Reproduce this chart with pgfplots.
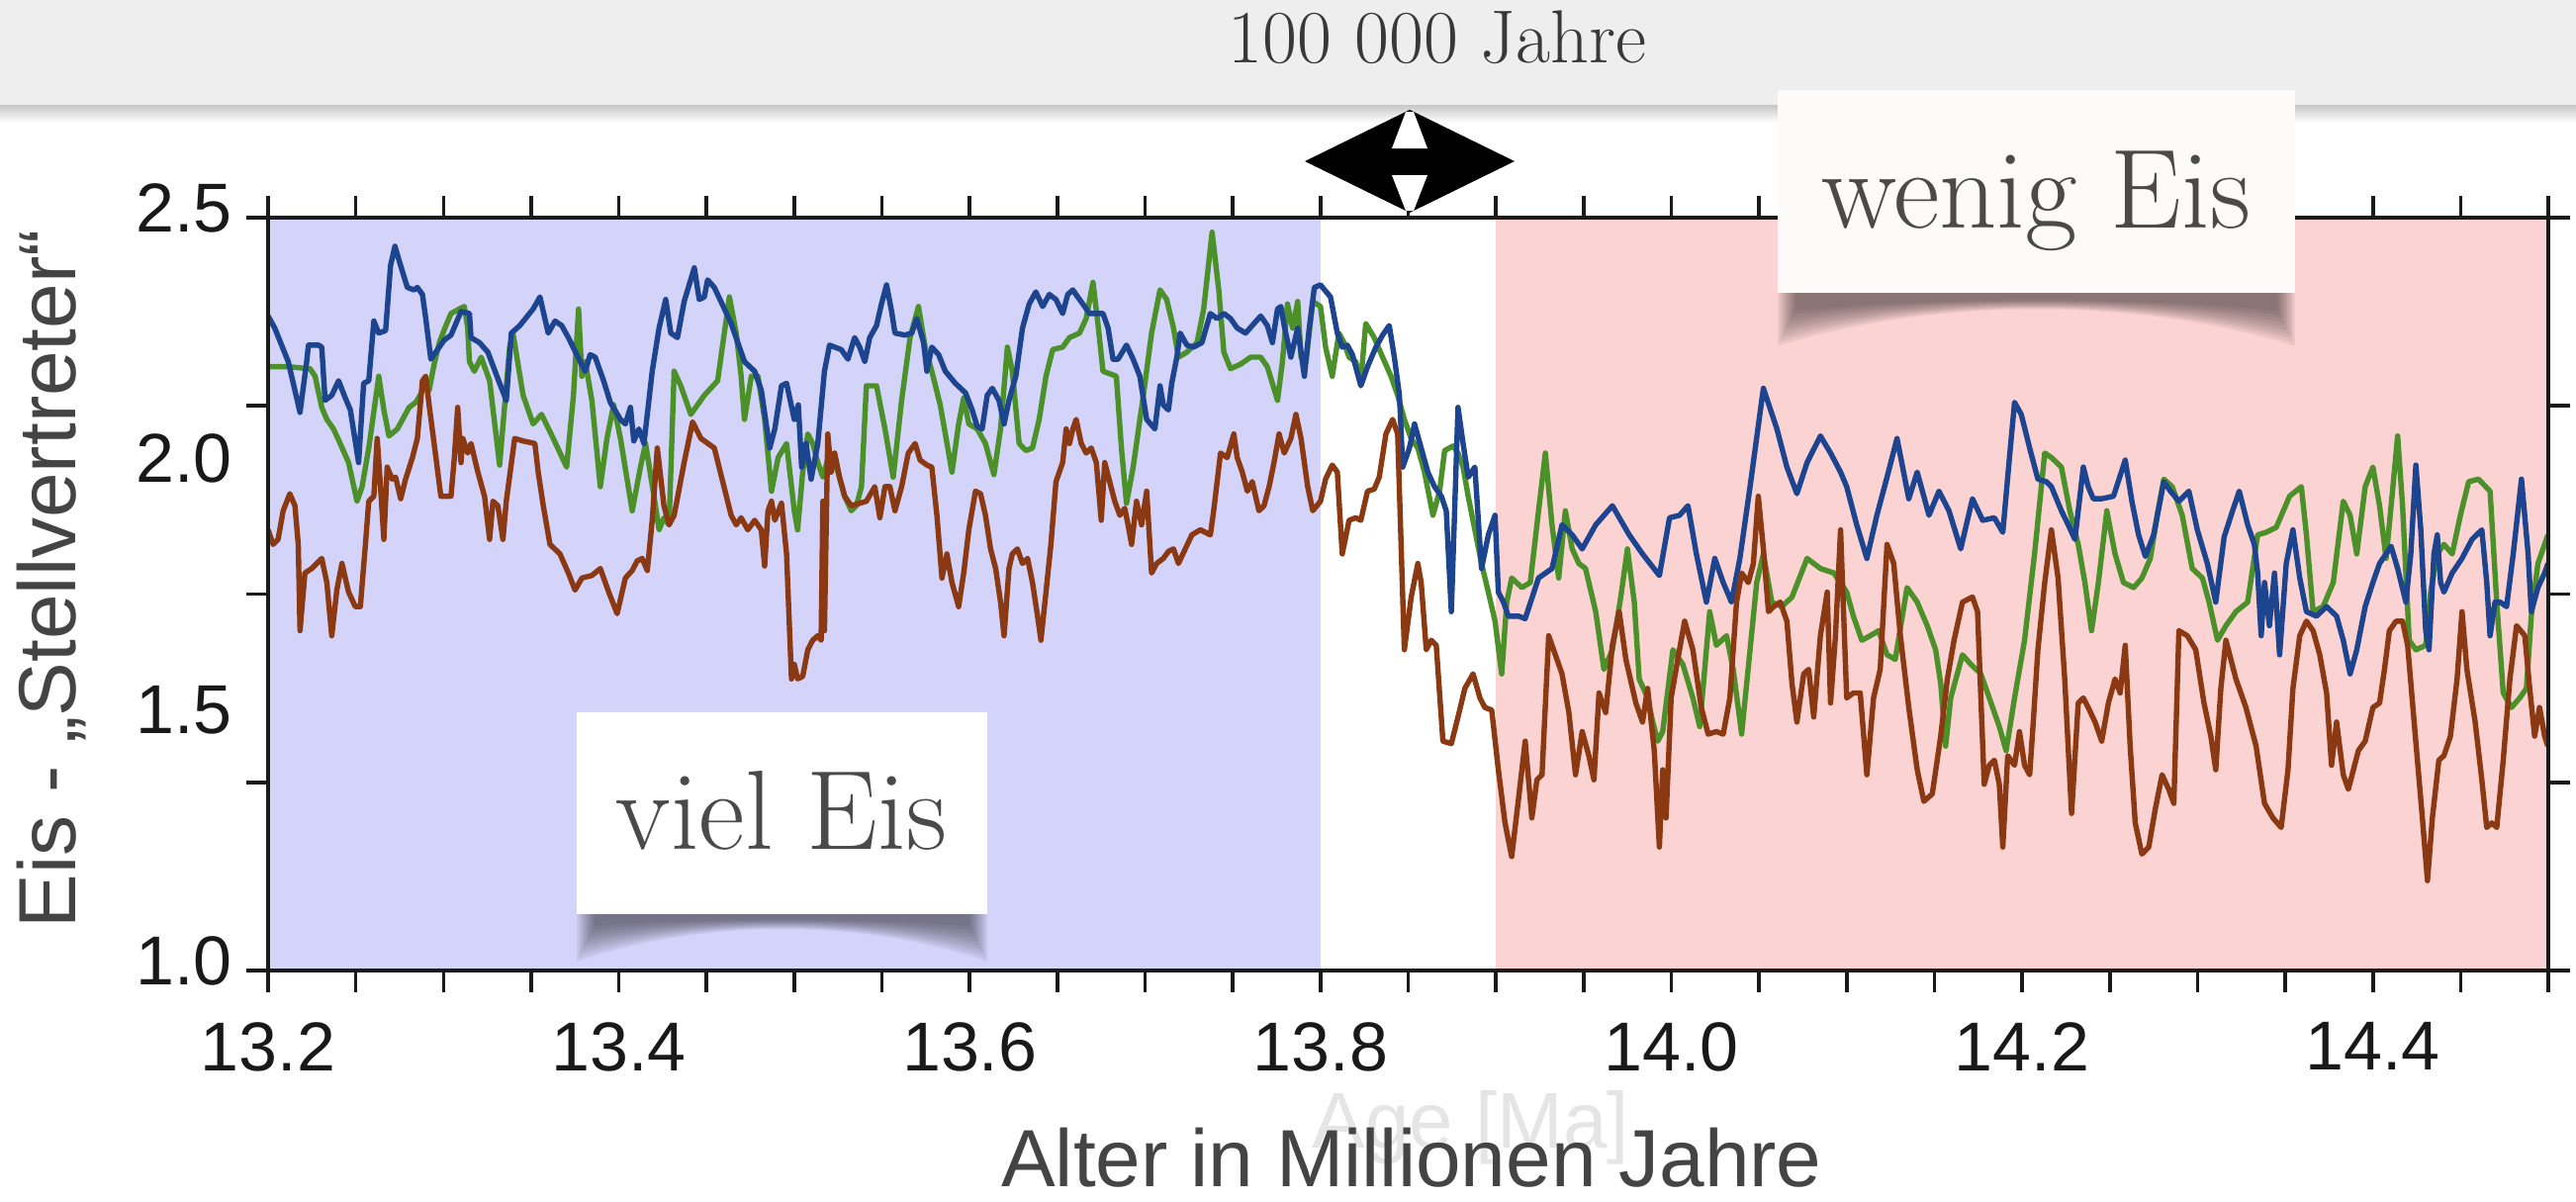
\documentclass[border=0pt]{standalone}
\usepackage{fontspec}
\usepackage{pgfplots}
\pgfplotsset{compat=1.18}
\newfontfamily\sans{Liberation Sans}
\definecolor{bluebg}{HTML}{D4D3F9}
\definecolor{pinkbg}{HTML}{FCD3D3}
\definecolor{lblue}{HTML}{1D448F}
\definecolor{lgreen}{HTML}{4C9029}
\definecolor{lbrown}{HTML}{8A3912}
\definecolor{axiscol}{HTML}{1A1A1A}
\definecolor{labelgray}{HTML}{444444}
\definecolor{boxtext}{HTML}{4A4A4A}
\definecolor{bannercol}{HTML}{EEEEEE}
\definecolor{boxw}{HTML}{FDFBFA}

\begin{document}
\begin{tikzpicture}
\path[use as bounding box] (0,0) rectangle (651pt,303.5pt);
\fill[white] (0,0) rectangle (651pt,303.5pt);

\begin{axis}[
  at={(67.75pt,58.25pt)}, anchor=south west,
  scale only axis, width=576.25pt, height=190.25pt,
  xmin=13.2, xmax=14.5, ymin=1, ymax=2.5,
  axis on top,
  axis line style={line width=1pt, color=axiscol},
  tick align=outside,
  xtick={13.2,13.4,13.6,13.8,14.0,14.2,14.4},
  xticklabels={13.2,13.4,13.6,13.8,14.0,14.2,14.4},
  minor xtick={13.25,13.3,13.35,13.45,13.5,13.55,13.65,13.7,13.75,13.85,13.9,13.95,14.05,14.1,14.15,14.25,14.3,14.35,14.45,14.5},
  ytick={1,1.375,1.75,2.125,2.5},
  yticklabels={1.0,,,,2.5},
  extra y ticks={1.5,2},
  extra y tick labels={1.5,2.0},
  extra y tick style={tick style={draw=none}},
  major tick length=5.5pt, minor tick length=5.5pt,
  tick style={line width=0.9pt, color=axiscol},
  ticklabel style={font=\sans\fontsize{17.5}{20}\selectfont, text=black!90},
  yticklabel style={yshift=2.5pt},
  xticklabel style={yshift=-4pt},
  every axis plot/.append style={line width=1.35pt, line join=round},
]
\fill[bluebg] (axis cs:13.2,1) rectangle (axis cs:13.8,2.5);
\fill[pinkbg] (axis cs:13.9,1) rectangle (axis cs:14.5,2.5);

% green
\addplot[lgreen] table {
13.2000 2.203
13.2115 2.203
13.2239 2.199
13.2268 2.184
13.2306 2.122
13.2335 2.098
13.2373 2.079
13.2411 2.050
13.2459 2.012
13.2507 1.935
13.2536 1.964
13.2574 2.041
13.2631 2.184
13.2660 2.117
13.2689 2.065
13.2737 2.079
13.2804 2.122
13.2842 2.132
13.2890 2.160
13.2918 2.156
13.2947 2.208
13.2976 2.251
13.3014 2.285
13.3043 2.309
13.3090 2.318
13.3119 2.323
13.3138 2.280
13.3148 2.213
13.3176 2.194
13.3215 2.222
13.3263 2.175
13.3320 2.007
13.3377 2.242
13.3396 2.270
13.3454 2.146
13.3511 2.089
13.3559 2.108
13.3626 2.060
13.3702 2.003
13.3741 2.146
13.3770 2.318
13.3789 2.184
13.3808 2.213
13.3846 2.136
13.3894 1.964
13.3932 2.060
13.3970 2.127
13.4009 2.060
13.4076 1.916
13.4123 2.003
13.4152 2.050
13.4200 1.945
13.4229 1.878
13.4257 1.902
13.4286 1.888
13.4315 2.194
13.4353 2.165
13.4410 2.108
13.4487 2.146
13.4563 2.175
13.4630 2.342
13.4669 2.270
13.4697 2.184
13.4716 2.098
13.4755 2.184
13.4793 2.184
13.4831 2.098
13.4870 1.955
13.4908 2.022
13.4956 2.050
13.5000 1.916
13.5019 1.878
13.5048 1.993
13.5077 2.069
13.5105 2.050
13.5134 2.012
13.5163 1.983
13.5201 2.031
13.5249 1.993
13.5287 1.945
13.5325 1.916
13.5354 1.926
13.5383 1.964
13.5411 2.165
13.5469 2.165
13.5517 2.079
13.5564 1.983
13.5612 2.136
13.5660 2.261
13.5708 2.323
13.5746 2.242
13.5784 2.194
13.5832 2.127
13.5899 1.993
13.5937 2.089
13.5966 2.141
13.5995 2.089
13.6043 2.079
13.6090 2.050
13.6138 1.988
13.6176 2.079
13.6215 2.242
13.6243 2.194
13.6282 2.050
13.6320 2.036
13.6358 2.041
13.6396 2.098
13.6435 2.184
13.6473 2.237
13.6530 2.242
13.6569 2.261
13.6626 2.270
13.6664 2.299
13.6703 2.371
13.6731 2.289
13.6760 2.194
13.6836 2.184
13.6865 2.041
13.6894 1.931
13.6932 2.003
13.6990 2.146
13.7037 2.270
13.7085 2.356
13.7123 2.337
13.7162 2.280
13.7190 2.222
13.7238 2.232
13.7296 2.251
13.7334 2.318
13.7382 2.471
13.7420 2.356
13.7449 2.232
13.7487 2.199
13.7544 2.208
13.7602 2.222
13.7659 2.222
13.7697 2.203
13.7755 2.136
13.7783 2.213
13.7812 2.328
13.7841 2.280
13.7870 2.333
13.7889 2.222
13.7917 2.213
13.7956 2.333
13.8000 2.323
13.8029 2.242
13.8067 2.184
13.8105 2.270
13.8134 2.251
13.8163 2.222
13.8201 2.213
13.8230 2.175
13.8258 2.289
13.8306 2.261
13.8354 2.222
13.8402 2.184
13.8440 2.146
13.8478 2.098
13.8517 2.060
13.8555 2.041
13.8593 1.993
13.8641 1.907
13.8679 1.955
13.8708 2.036
13.8756 2.045
13.8784 2.031
13.8813 2.003
13.8842 1.945
13.8880 1.878
13.8918 1.811
13.8957 1.754
13.8995 1.696
13.9033 1.591
13.9062 1.734
13.9090 1.782
13.9148 1.763
13.9196 1.773
13.9234 1.888
13.9282 2.031
13.9320 1.888
13.9358 1.782
13.9396 1.916
13.9435 1.840
13.9473 1.811
13.9511 1.801
13.9569 1.715
13.9616 1.600
13.9664 1.639
13.9712 1.744
13.9750 1.840
13.9789 1.734
13.9817 1.581
13.9865 1.543
13.9894 1.495
13.9923 1.457
13.9951 1.476
14.0009 1.639
14.0066 1.610
14.0123 1.543
14.0162 1.486
14.0219 1.715
14.0257 1.648
14.0315 1.667
14.0353 1.600
14.0401 1.471
14.0449 1.639
14.0487 1.773
14.0525 1.830
14.0573 1.734
14.0630 1.725
14.0688 1.744
14.0774 1.821
14.0850 1.801
14.0927 1.792
14.1000 1.754
14.1038 1.706
14.1086 1.658
14.1134 1.667
14.1182 1.677
14.1230 1.629
14.1277 1.620
14.1344 1.763
14.1402 1.734
14.1459 1.687
14.1507 1.639
14.1536 1.572
14.1564 1.447
14.1593 1.543
14.1660 1.629
14.1708 1.610
14.1765 1.591
14.1823 1.533
14.1870 1.486
14.1909 1.438
14.1957 1.543
14.2014 1.658
14.2071 1.830
14.2129 2.031
14.2167 2.022
14.2224 2.003
14.2272 1.916
14.2320 1.849
14.2358 1.773
14.2396 1.677
14.2435 1.773
14.2483 1.916
14.2530 1.830
14.2578 1.773
14.2636 1.763
14.2683 1.782
14.2731 1.821
14.2770 1.907
14.2808 1.979
14.2856 1.964
14.2913 1.907
14.2970 1.801
14.3028 1.782
14.3066 1.734
14.3114 1.658
14.3162 1.687
14.3219 1.715
14.3286 1.734
14.3343 1.868
14.3391 1.873
14.3449 1.883
14.3525 1.945
14.3592 1.964
14.3621 1.868
14.3659 1.715
14.3716 1.725
14.3774 1.773
14.3831 1.935
14.3870 1.907
14.3908 1.830
14.3956 1.964
14.4000 2.003
14.4038 1.926
14.4075 1.821
14.4104 1.926
14.4141 2.065
14.4169 1.926
14.4207 1.658
14.4245 1.639
14.4301 1.648
14.4329 1.754
14.4367 1.830
14.4405 1.849
14.4452 1.830
14.4499 1.907
14.4546 1.974
14.4602 1.979
14.4668 1.955
14.4706 1.734
14.4743 1.553
14.4790 1.524
14.4837 1.543
14.4875 1.562
14.4903 1.706
14.4941 1.811
14.4979 1.849
14.4998 1.868
};

% blue
\addplot[lblue] table {
13.2000 2.304
13.2038 2.280
13.2115 2.213
13.2182 2.112
13.2220 2.213
13.2230 2.246
13.2287 2.246
13.2306 2.242
13.2325 2.136
13.2363 2.146
13.2402 2.175
13.2440 2.141
13.2469 2.117
13.2516 2.012
13.2545 2.170
13.2574 2.175
13.2603 2.294
13.2631 2.270
13.2670 2.275
13.2698 2.404
13.2723 2.443
13.2756 2.404
13.2794 2.361
13.2832 2.356
13.2851 2.361
13.2880 2.347
13.2899 2.299
13.2928 2.218
13.2966 2.237
13.3004 2.256
13.3043 2.266
13.3100 2.313
13.3148 2.309
13.3157 2.261
13.3205 2.251
13.3253 2.232
13.3320 2.170
13.3358 2.136
13.3387 2.270
13.3435 2.285
13.3511 2.318
13.3550 2.342
13.3578 2.299
13.3597 2.270
13.3636 2.294
13.3674 2.285
13.3712 2.261
13.3760 2.227
13.3808 2.194
13.3836 2.227
13.3865 2.222
13.3913 2.175
13.3951 2.132
13.4009 2.098
13.4037 2.089
13.4066 2.122
13.4085 2.055
13.4114 2.079
13.4143 2.050
13.4190 2.194
13.4229 2.280
13.4267 2.337
13.4296 2.270
13.4334 2.261
13.4372 2.333
13.4430 2.400
13.4458 2.337
13.4487 2.342
13.4506 2.376
13.4544 2.361
13.4602 2.318
13.4640 2.289
13.4678 2.251
13.4716 2.213
13.4774 2.194
13.4812 2.156
13.4860 2.041
13.4889 2.079
13.4927 2.165
13.4956 2.170
13.5000 2.098
13.5023 2.127
13.5042 2.003
13.5067 2.050
13.5096 1.979
13.5134 2.050
13.5172 2.194
13.5201 2.246
13.5268 2.237
13.5306 2.218
13.5344 2.261
13.5373 2.242
13.5402 2.213
13.5430 2.261
13.5469 2.285
13.5497 2.328
13.5526 2.366
13.5555 2.313
13.5574 2.270
13.5631 2.266
13.5670 2.270
13.5698 2.299
13.5737 2.251
13.5756 2.194
13.5784 2.242
13.5823 2.227
13.5861 2.194
13.5918 2.170
13.5976 2.151
13.6014 2.117
13.6043 2.084
13.6071 2.079
13.6100 2.146
13.6129 2.160
13.6167 2.136
13.6196 2.089
13.6224 2.136
13.6263 2.184
13.6301 2.280
13.6339 2.328
13.6377 2.352
13.6416 2.323
13.6454 2.347
13.6492 2.337
13.6530 2.309
13.6559 2.347
13.6588 2.356
13.6616 2.342
13.6645 2.328
13.6683 2.309
13.6760 2.309
13.6789 2.280
13.6817 2.218
13.6846 2.218
13.6894 2.246
13.6932 2.218
13.6970 2.184
13.7009 2.098
13.7056 2.079
13.7085 2.165
13.7104 2.127
13.7133 2.117
13.7152 2.170
13.7181 2.222
13.7200 2.270
13.7238 2.246
13.7276 2.242
13.7324 2.251
13.7372 2.309
13.7410 2.299
13.7449 2.309
13.7487 2.299
13.7525 2.280
13.7573 2.270
13.7621 2.289
13.7659 2.304
13.7697 2.285
13.7726 2.251
13.7755 2.318
13.7774 2.323
13.7793 2.285
13.7831 2.222
13.7870 2.280
13.7908 2.184
13.7936 2.280
13.7965 2.361
13.8000 2.366
13.8057 2.342
13.8096 2.270
13.8124 2.242
13.8153 2.246
13.8182 2.227
13.8230 2.165
13.8268 2.203
13.8316 2.242
13.8354 2.266
13.8392 2.285
13.8421 2.222
13.8450 2.146
13.8469 2.003
13.8507 2.041
13.8536 2.089
13.8574 2.041
13.8612 1.993
13.8650 1.964
13.8689 1.945
13.8717 1.916
13.8746 1.715
13.8784 2.122
13.8813 2.050
13.8842 1.983
13.8880 2.003
13.8918 1.801
13.8957 1.868
13.8995 1.907
13.9014 1.754
13.9043 1.734
13.9071 1.706
13.9129 1.706
13.9167 1.701
13.9243 1.782
13.9320 1.801
13.9377 1.888
13.9435 1.868
13.9492 1.840
13.9569 1.888
13.9664 1.926
13.9760 1.868
13.9836 1.830
13.9932 1.787
13.9990 1.902
14.0047 1.907
14.0095 1.926
14.0143 1.830
14.0200 1.734
14.0248 1.821
14.0296 1.773
14.0343 1.734
14.0391 1.821
14.0449 1.964
14.0525 2.160
14.0602 2.079
14.0659 2.003
14.0716 1.950
14.0774 2.012
14.0850 2.065
14.0908 2.031
14.0965 1.993
14.1000 1.964
14.1057 1.888
14.1115 1.821
14.1172 1.907
14.1230 1.983
14.1287 2.060
14.1354 1.940
14.1402 1.993
14.1469 1.907
14.1526 1.955
14.1583 1.916
14.1650 1.840
14.1717 1.940
14.1775 1.897
14.1842 1.902
14.1890 1.873
14.1928 2.022
14.1957 2.132
14.1995 2.108
14.2043 2.041
14.2090 1.979
14.2138 1.974
14.2167 1.964
14.2224 1.916
14.2263 1.888
14.2301 1.859
14.2349 2.003
14.2377 1.964
14.2406 1.940
14.2454 1.940
14.2521 1.945
14.2588 2.017
14.2626 1.935
14.2664 1.868
14.2703 1.825
14.2750 1.868
14.2808 1.974
14.2846 1.955
14.2894 1.935
14.2951 1.955
14.2999 1.878
14.3056 1.811
14.3104 1.734
14.3152 1.864
14.3200 1.916
14.3238 1.955
14.3286 1.888
14.3324 1.849
14.3343 1.792
14.3363 1.667
14.3382 1.773
14.3410 1.687
14.3439 1.792
14.3468 1.629
14.3506 1.811
14.3544 1.878
14.3583 1.782
14.3621 1.715
14.3678 1.706
14.3736 1.725
14.3793 1.706
14.3831 1.658
14.3870 1.591
14.3908 1.639
14.3956 1.725
14.4000 1.773
14.4038 1.811
14.4075 1.830
14.4104 1.845
14.4141 1.801
14.4188 1.734
14.4216 1.830
14.4245 2.007
14.4273 1.878
14.4301 1.677
14.4320 1.639
14.4348 1.830
14.4367 1.868
14.4386 1.773
14.4405 1.754
14.4452 1.792
14.4508 1.821
14.4565 1.859
14.4621 1.878
14.4649 1.773
14.4668 1.667
14.4696 1.734
14.4725 1.734
14.4762 1.725
14.4800 1.830
14.4847 1.979
14.4885 1.830
14.4903 1.715
14.4941 1.763
14.4979 1.792
14.4998 1.811
};

% brown
\addplot[lbrown] table {
13.2000 1.878
13.2029 1.849
13.2057 1.859
13.2086 1.916
13.2124 1.950
13.2153 1.926
13.2172 1.849
13.2182 1.677
13.2210 1.792
13.2249 1.801
13.2306 1.821
13.2335 1.773
13.2363 1.667
13.2392 1.758
13.2421 1.811
13.2459 1.754
13.2497 1.725
13.2526 1.725
13.2555 1.849
13.2574 1.935
13.2603 1.945
13.2622 2.060
13.2641 1.964
13.2660 1.859
13.2679 2.003
13.2708 1.979
13.2727 1.983
13.2756 1.940
13.2784 1.979
13.2823 2.022
13.2851 2.060
13.2880 2.175
13.2899 2.184
13.2918 2.127
13.2957 2.022
13.2985 1.945
13.3043 1.945
13.3062 2.022
13.3081 2.122
13.3100 2.012
13.3110 2.060
13.3138 2.031
13.3157 2.050
13.3196 1.993
13.3234 1.945
13.3263 1.859
13.3282 1.935
13.3310 1.926
13.3339 1.859
13.3358 1.935
13.3406 2.060
13.3454 2.055
13.3521 2.050
13.3540 1.993
13.3569 1.926
13.3607 1.849
13.3664 1.830
13.3712 1.792
13.3750 1.758
13.3789 1.782
13.3846 1.787
13.3894 1.801
13.3942 1.754
13.3990 1.711
13.4037 1.782
13.4076 1.797
13.4104 1.816
13.4133 1.821
13.4162 1.797
13.4190 1.897
13.4219 2.041
13.4238 1.983
13.4257 1.926
13.4286 1.888
13.4315 1.907
13.4372 2.012
13.4420 2.093
13.4468 2.060
13.4544 2.041
13.4592 1.974
13.4640 1.907
13.4669 1.888
13.4697 1.902
13.4735 1.878
13.4774 1.897
13.4812 1.878
13.4831 1.806
13.4850 1.916
13.4870 1.935
13.4889 1.897
13.4927 1.931
13.4956 1.830
13.4984 1.581
13.5000 1.610
13.5019 1.581
13.5048 1.586
13.5077 1.639
13.5105 1.658
13.5134 1.667
13.5153 1.658
13.5163 1.935
13.5172 1.677
13.5191 2.069
13.5210 1.993
13.5230 2.031
13.5258 1.983
13.5287 1.945
13.5325 1.926
13.5373 1.931
13.5411 1.935
13.5459 1.964
13.5488 1.902
13.5517 1.964
13.5545 1.964
13.5574 1.916
13.5612 1.964
13.5650 2.031
13.5689 2.050
13.5717 2.017
13.5756 2.007
13.5784 2.003
13.5813 1.907
13.5842 1.782
13.5870 1.830
13.5899 1.773
13.5937 1.725
13.5966 1.792
13.5995 1.878
13.6033 1.955
13.6062 1.950
13.6090 1.907
13.6119 1.840
13.6148 1.801
13.6176 1.734
13.6196 1.667
13.6224 1.801
13.6243 1.830
13.6272 1.840
13.6301 1.811
13.6330 1.821
13.6358 1.773
13.6387 1.706
13.6406 1.658
13.6435 1.754
13.6463 1.849
13.6492 1.974
13.6530 2.012
13.6550 2.079
13.6569 2.050
13.6588 2.079
13.6607 2.098
13.6636 2.050
13.6664 2.031
13.6693 2.041
13.6722 2.012
13.6750 1.897
13.6770 2.012
13.6798 1.974
13.6827 1.935
13.6856 1.907
13.6884 1.921
13.6903 1.888
13.6923 1.849
13.6951 1.935
13.6980 1.888
13.7009 1.955
13.7037 1.792
13.7066 1.811
13.7104 1.821
13.7133 1.835
13.7162 1.840
13.7190 1.811
13.7229 1.840
13.7267 1.868
13.7315 1.878
13.7372 1.868
13.7391 1.916
13.7430 2.031
13.7468 2.022
13.7506 2.069
13.7525 2.022
13.7554 1.993
13.7583 1.955
13.7611 1.974
13.7649 1.916
13.7678 1.926
13.7707 1.964
13.7735 2.012
13.7764 2.069
13.7793 2.031
13.7831 2.060
13.7860 2.108
13.7889 2.060
13.7927 1.964
13.7956 1.916
13.8000 1.935
13.8029 1.979
13.8067 2.007
13.8096 1.993
13.8124 1.830
13.8163 1.897
13.8201 1.902
13.8230 1.897
13.8268 1.955
13.8306 1.959
13.8335 1.983
13.8373 2.069
13.8411 2.098
13.8440 2.069
13.8478 1.639
13.8517 1.744
13.8555 1.811
13.8574 1.773
13.8603 1.639
13.8631 1.658
13.8660 1.648
13.8698 1.457
13.8746 1.452
13.8784 1.505
13.8823 1.562
13.8870 1.591
13.8909 1.543
13.8937 1.524
13.8976 1.519
13.9014 1.400
13.9052 1.294
13.9090 1.227
13.9129 1.342
13.9167 1.457
13.9205 1.304
13.9234 1.380
13.9263 1.390
13.9301 1.667
13.9339 1.629
13.9377 1.591
13.9416 1.514
13.9454 1.390
13.9492 1.476
13.9530 1.428
13.9559 1.380
13.9588 1.553
13.9626 1.514
13.9664 1.648
13.9703 1.715
13.9741 1.620
13.9798 1.533
13.9836 1.495
13.9865 1.562
13.9903 1.438
13.9932 1.246
13.9951 1.400
13.9970 1.304
13.9999 1.543
14.0037 1.620
14.0076 1.696
14.0123 1.639
14.0171 1.524
14.0210 1.471
14.0257 1.476
14.0296 1.471
14.0334 1.543
14.0372 1.734
14.0401 1.792
14.0439 1.773
14.0468 1.811
14.0496 1.945
14.0525 1.840
14.0554 1.715
14.0583 1.725
14.0621 1.734
14.0659 1.696
14.0688 1.572
14.0716 1.495
14.0755 1.591
14.0783 1.600
14.0812 1.505
14.0850 1.667
14.0889 1.754
14.0908 1.533
14.0936 1.667
14.0965 1.878
14.1000 1.543
14.1038 1.553
14.1077 1.553
14.1115 1.390
14.1153 1.543
14.1191 1.600
14.1230 1.849
14.1268 1.811
14.1306 1.667
14.1354 1.524
14.1402 1.400
14.1440 1.337
14.1488 1.352
14.1536 1.467
14.1574 1.581
14.1612 1.658
14.1660 1.734
14.1717 1.744
14.1746 1.715
14.1784 1.371
14.1813 1.409
14.1842 1.419
14.1870 1.371
14.1890 1.246
14.1918 1.428
14.1957 1.409
14.1985 1.476
14.2014 1.409
14.2043 1.390
14.2062 1.486
14.2090 1.639
14.2129 1.773
14.2167 1.878
14.2205 1.782
14.2243 1.581
14.2282 1.313
14.2320 1.533
14.2349 1.543
14.2377 1.524
14.2416 1.495
14.2454 1.457
14.2492 1.533
14.2530 1.581
14.2559 1.553
14.2588 1.648
14.2616 1.447
14.2645 1.294
14.2683 1.232
14.2722 1.246
14.2760 1.323
14.2798 1.390
14.2836 1.361
14.2865 1.333
14.2894 1.677
14.2942 1.667
14.2990 1.639
14.3037 1.533
14.3076 1.467
14.3104 1.400
14.3133 1.562
14.3162 1.658
14.3219 1.581
14.3276 1.524
14.3334 1.447
14.3382 1.333
14.3430 1.304
14.3477 1.285
14.3516 1.400
14.3544 1.562
14.3583 1.667
14.3621 1.696
14.3659 1.677
14.3697 1.629
14.3736 1.553
14.3764 1.409
14.3793 1.495
14.3831 1.390
14.3860 1.361
14.3889 1.400
14.3917 1.438
14.3956 1.457
14.4000 1.524
14.4038 1.533
14.4066 1.600
14.4094 1.677
14.4132 1.696
14.4169 1.696
14.4198 1.648
14.4235 1.495
14.4282 1.304
14.4311 1.179
14.4339 1.304
14.4376 1.419
14.4405 1.428
14.4442 1.467
14.4480 1.581
14.4508 1.715
14.4536 1.600
14.4583 1.495
14.4621 1.380
14.4649 1.285
14.4678 1.294
14.4706 1.285
14.4743 1.419
14.4781 1.581
14.4819 1.687
14.4866 1.667
14.4894 1.562
14.4922 1.467
14.4950 1.524
14.4979 1.467
14.4998 1.447
};
\end{axis}

\begin{scope}[x=0.25pt,y=0.25pt,shift={(0pt,303.5pt)}]
  % banner
  \fill[bannercol] (0,0) rectangle (2604,-106);
  \shade[top color=black!22, bottom color=white] (0,-106) rectangle (2604,-124);
  \node[anchor=base, text=black!78, font=\fontsize{19}{23}\selectfont] at (1453,-64) {100 000 Jahre};

  % double arrow
  \fill[black] (1319,-163) -- (1425,-111) -- (1531,-163) -- (1425,-215) -- cycle;
  \fill[white] (1421,-113) -- (1429,-113) -- (1443,-150) -- (1407,-150) -- cycle;
  \fill[white] (1421,-213) -- (1429,-213) -- (1443,-177) -- (1407,-177) -- cycle;

  % shadow + box: wenig Eis
  \foreach \k in {0,...,9} {
    \fill[black, opacity=0.055] ({1797+2*\k},-296) -- ({2320-2*\k},-296) -- ({2320-2*\k},{-(350-4*\k)})
      .. controls (2160,-300) and (1957,-300) .. ({1797+2*\k},{-(350-4*\k)}) -- cycle;
  }
  \fill[boxw] (1797,-91) rectangle (2320,-296);
  \node[anchor=base, text=boxtext, font=\fontsize{28.5}{34}\selectfont] at (2058,-230) {wenig Eis};

  % shadow + box: viel Eis
  \foreach \k in {0,...,9} {
    \fill[black, opacity=0.055] ({583+2*\k},-924) -- ({998-2*\k},-924) -- ({998-2*\k},{-(972-4*\k)})
      .. controls (870,-928) and (711,-928) .. ({583+2*\k},{-(972-4*\k)}) -- cycle;
  }
  \fill[white] (583,-720) rectangle (998,-924);
  \node[anchor=base, text=boxtext, font=\fontsize{28.5}{34}\selectfont] at (790,-858) {viel Eis};

  % axis titles
  \node[anchor=base, text=black!10, font=\sans\fontsize{20}{24}\selectfont] at (1487,-1160) {Age [Ma]};
  \node[anchor=base, text=labelgray, font=\sans\fontsize{20.5}{24}\selectfont] at (1427,-1199) {Alter in Millionen Jahre};
  \node[rotate=90, text=labelgray, font=\sans\fontsize{20.5}{24}\selectfont] at (52,-585) {Eis - „Stellvertreter“};
\end{scope}
\end{tikzpicture}
\end{document}
